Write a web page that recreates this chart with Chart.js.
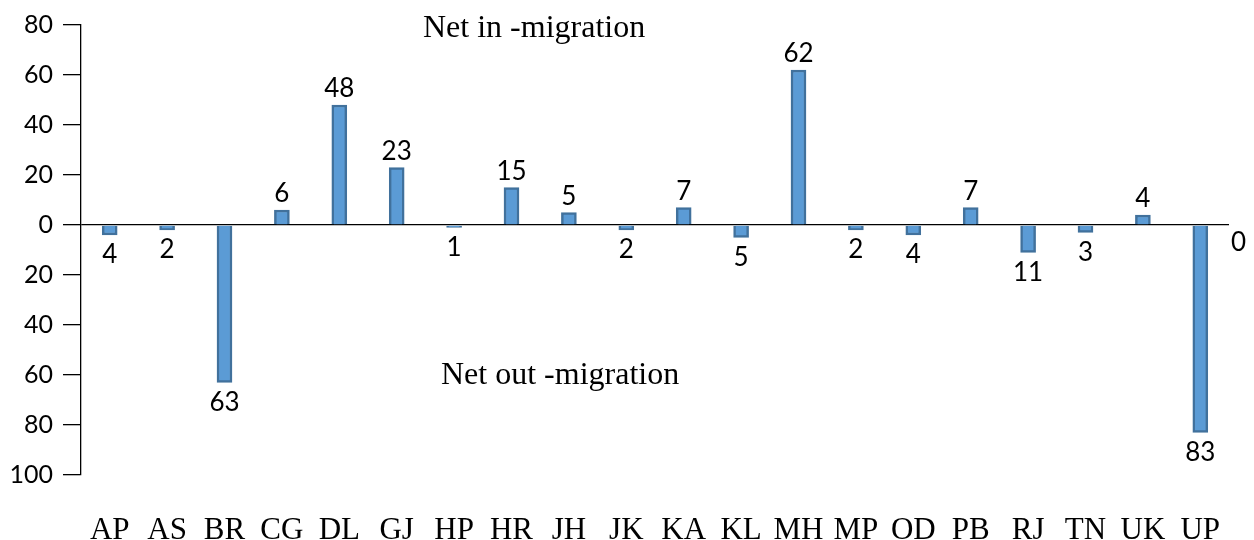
<!DOCTYPE html>
<html>
<head>
<meta charset="utf-8">
<script src="https://cdn.jsdelivr.net/npm/chart.js@4.4.1/dist/chart.umd.min.js"></script>
<style>
  html, body { margin: 0; padding: 0; background: #fff; }
  #wrap { width: 1254px; height: 540px; position: relative; }
</style>
</head>
<body>
<div id="wrap"><canvas id="c" width="1254" height="540"></canvas></div>
<script>
// States (abbreviations) along the horizontal axis
const states = ['AP','AS','BR','CG','DL','GJ','HP','HR','JH','JK','KA','KL','MH','MP','OD','PB','RJ','TN','UK','UP'];
// Net migration per state: positive = net in-migration, negative = net out-migration
const netMigration = [-4, -2, -63, 6, 48, 23, -1, 15, 5, -2, 7, -5, 62, -2, -4, 7, -11, -3, 4, -83];
// Vertical axis range and step
const yMin = -100;
const yMax = 80;
const yStep = 20;
// Region captions
const inCaption = 'Net in -migration';
const outCaption = 'Net out -migration';
const axisEndLabel = '0';

const serif = '"Liberation Serif", "Times New Roman", serif';
const sans = 'Lato, "Open Sans", sans-serif';

const annotate = {
  id: 'annotate',
  afterDatasetsDraw(chart) {
    const ctx = chart.ctx;
    const meta = chart.getDatasetMeta(0);
    const y = chart.scales.y;
    ctx.save();
    ctx.fillStyle = '#000';
    ctx.font = '26px ' + sans;
    ctx.textAlign = 'center';
    ctx.textBaseline = 'alphabetic';
    meta.data.forEach((bar, i) => {
      const v = netMigration[i];
      const txt = String(Math.abs(v));
      if (v >= 0) {
        ctx.fillText(txt, bar.x, bar.y - 8);
      } else {
        ctx.fillText(txt, bar.x, bar.y + 28);
      }
    });
    // label at the right end of the zero line
    const area = chart.chartArea;
    ctx.textAlign = 'left';
    ctx.fillText(axisEndLabel, area.right + 2, y.getPixelForValue(0) + 26);
    // region captions
    ctx.font = '32px ' + serif;
    ctx.fillText(inCaption, area.left + 342, area.top + 12);
    ctx.fillText(outCaption, area.left + 360, area.top + 359);
    ctx.restore();
  }
};

new Chart(document.getElementById('c'), {
  type: 'bar',
  data: {
    labels: states,
    datasets: [{
      data: netMigration,
      backgroundColor: '#5B9BD5',
      borderColor: '#41719C',
      borderWidth: 2.5,
      barThickness: 15
    }]
  },
  options: {
    responsive: false,
    animation: false,
    layout: { padding: { top: 24, right: 25, left: 0, bottom: 0 } },
    plugins: { legend: { display: false }, tooltip: { enabled: false } },
    scales: {
      x: {
        grid: { display: false },
        border: { display: false },
        ticks: {
          color: '#000',
          font: { family: serif, size: 31 },
          padding: 29,
          maxRotation: 0,
          autoSkip: false
        },
        afterFit(scale) { scale.height = 65; }
      },
      y: {
        min: yMin,
        max: yMax,
        border: { display: true, color: '#000', width: 1.3 },
        grid: {
          drawOnChartArea: true,
          color: (c) => (c.tick && c.tick.value === 0 ? '#000' : 'rgba(0,0,0,0)'),
          lineWidth: 1.3,
          tickColor: '#000',
          tickLength: 18
        },
        ticks: {
          stepSize: yStep,
          color: '#000',
          font: { family: sans, size: 25 },
          padding: 10,
          callback: (v) => String(Math.abs(v))
        },
        afterFit(scale) { scale.width = 81; }
      }
    }
  },
  plugins: [annotate]
});
</script>
</body>
</html>
